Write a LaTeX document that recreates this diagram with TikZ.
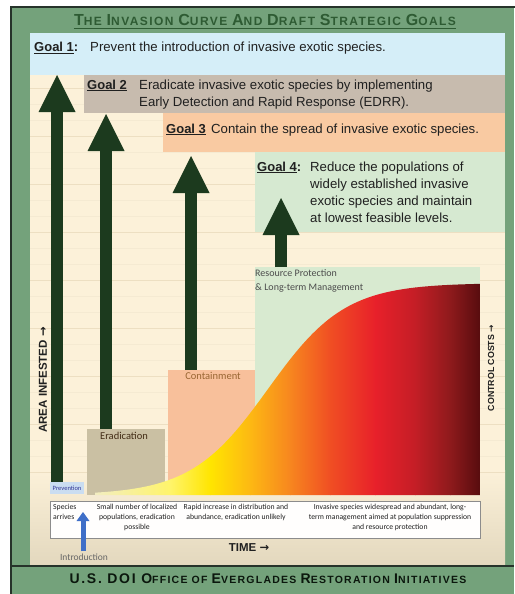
\documentclass[tikz,border=0pt]{standalone}
\usepackage{fontspec}
\setmainfont{Liberation Sans}
\newfontfamily\carl{Carlito}
\newfontfamily\djv{DejaVu Sans}
\newfontfamily\ttlfont[LetterSpace=12]{Liberation Sans}
\usetikzlibrary{arrows.meta}
\definecolor{framegreen}{HTML}{74A27B}
\definecolor{darkframe}{HTML}{26332A}
\definecolor{titlegreen}{HTML}{2E5B33}
\definecolor{cream}{HTML}{FCF1D9}
\definecolor{beige}{HTML}{E3D8BE}
\definecolor{gridln}{HTML}{F5EAD2}
\definecolor{gridmaj}{HTML}{EDDFC2}
\definecolor{g1col}{HTML}{D5EEF8}
\definecolor{g2col}{HTML}{C7BBAE}
\definecolor{g3col}{HTML}{F9CAA2}
\definecolor{g4col}{HTML}{D6E9D1}
\definecolor{eradcol}{HTML}{CAC0A3}
\definecolor{contcol}{HTML}{F8C09B}
\definecolor{rescol}{HTML}{D8EAD0}
\definecolor{prevcol}{HTML}{CADDF1}
\definecolor{arrowgreen}{HTML}{1C3A1E}
\definecolor{bluearrow}{HTML}{3F6FC8}
\definecolor{txtdark}{HTML}{202020}
\definecolor{c0}{HTML}{F2EDC2}
\definecolor{c1}{HTML}{FFF46A}
\definecolor{c2}{HTML}{FFE500}
\definecolor{c3}{HTML}{FDB813}
\definecolor{c4}{HTML}{F7861F}
\definecolor{c5}{HTML}{F04E23}
\definecolor{c6}{HTML}{E8202A}
\definecolor{c7}{HTML}{C41E26}
\definecolor{c8}{HTML}{8E1A1C}
\definecolor{c9}{HTML}{560C0E}
\newcommand\BC[1]{{\fontsize{16}{17}\selectfont #1}}
\newcommand\FC[1]{{\fontsize{14}{15}\selectfont #1}}
\tikzset{
  box/.style={anchor=north west, inner sep=0pt, outer sep=0pt},
  gtxt/.style={anchor=base west, inner sep=0pt, text=txtdark, font=\fontsize{13.2}{15}\selectfont},
  glbl/.style={anchor=base west, inner sep=0pt, text=txtdark, font=\fontsize{13}{15}\selectfont\bfseries},
  stagetxt/.style={inner sep=0pt, font=\carl\fontsize{10.5}{13}\selectfont},
  desctxt/.style={anchor=north, inner sep=0pt, align=center, text=txtdark, font=\carl\fontsize{7.7}{10}\selectfont},
  bigarrow/.style={draw=arrowgreen, line width=12pt, -{Triangle[width=37pt,length=37pt,line width=0pt]}},
  axislbl/.style={rotate=90, inner sep=0pt, text=txtdark},
}
\begin{document}
\begin{tikzpicture}[x=1pt,y=-1pt]
\useasboundingbox (0,0) rectangle (514,594);
\fill[white] (0,0) rectangle (514,594);
% frame
\fill[framegreen] (11,7) rectangle (514,594);
\draw[darkframe, line width=1.5pt] (11,600) -- (11,7) -- (520,7);
% panel
\fill[cream] (30,33) rectangle (505,565);
\shade[top color=cream, bottom color=beige] (30,470) rectangle (505,565);
\foreach \yy in {88,104,...,472} \draw[gridln, line width=0.6pt] (30,\yy) -- (505,\yy);
\foreach \yy in {88,136,...,472} \draw[gridmaj, line width=0.7pt] (30,\yy) -- (505,\yy);
\draw[darkframe, line width=1.2pt] (11,566) -- (514,566);

% title
\node[anchor=base, inner sep=0pt, text=titlegreen, font=\ttlfont\bfseries\fontsize{12}{14}\selectfont] (title) at (265,26)
  {\BC{T}HE \BC{I}NVASION \BC{C}URVE \BC{A}ND \BC{D}RAFT \BC{S}TRATEGIC \BC{G}OALS};
\draw[titlegreen, line width=0.9pt] ([yshift=-2pt]title.base west) -- ([yshift=-2pt]title.base east);

% goal boxes
\node[box, fill=g1col, minimum width=475pt, minimum height=42pt] (g1) at (30,33) {};
\node[box, fill=g2col, minimum width=421pt, minimum height=38pt] (g2) at (84,75) {};
\node[box, fill=g3col, minimum width=342pt, minimum height=39pt] (g3) at (163,113) {};
\node[box, fill=g4col, minimum width=250pt, minimum height=80pt] (g4) at (255,152) {};

\node[glbl] (g1l) at (34,52) {\underline{Goal 1}:};
\node[gtxt] (g1t) at (90,52) {Prevent the introduction of invasive exotic species.};
\node[glbl] (g2l) at (87,89) {\underline{Goal 2}};
\node[gtxt] (g2t) at (139,89) {Eradicate invasive exotic species by implementing};
\node[gtxt] (g2u) at (139,106) {Early Detection and Rapid Response (EDRR).};
\node[glbl] (g3l) at (166,133) {\underline{Goal 3}};
\node[gtxt] (g3t) at (211,133) {Contain the spread of invasive exotic species.};
\node[glbl] (g4l) at (257,171) {\underline{Goal 4}:};
\node[gtxt] (g4a) at (310,171) {Reduce the populations of};
\node[gtxt] (g4b) at (310,188) {widely established invasive};
\node[gtxt] (g4c) at (310,205) {exotic species and maintain};
\node[gtxt] (g4d) at (310,222) {at lowest feasible levels.};

% stage boxes
\node[box, fill=prevcol, minimum width=34pt, minimum height=12pt] (prev) at (50,482) {};
\node[box, fill=eradcol, minimum width=78pt, minimum height=66pt] (erad) at (87,429) {};
\node[box, fill=contcol, minimum width=87pt, minimum height=125pt] (cont) at (168,370) {};
\node[box, fill=rescol, minimum width=225pt, minimum height=228pt] (res) at (255,267) {};

% invasion curve
\begin{scope}
\clip plot[domain=95:480, samples=120] (\x,{495-212/(1+exp(-0.026*(\x-268)))}) -- (480,495) -- (95,495) -- cycle;
\shade[left color=c0, right color=c1] (94,270) rectangle (170.5,496);
\shade[left color=c1, right color=c2] (170,270) rectangle (210.5,496);
\shade[left color=c2, right color=c3] (210,270) rectangle (250.5,496);
\shade[left color=c3, right color=c4] (250,270) rectangle (290.5,496);
\shade[left color=c4, right color=c5] (290,270) rectangle (330.5,496);
\shade[left color=c5, right color=c6] (330,270) rectangle (375.5,496);
\shade[left color=c6, right color=c7] (375,270) rectangle (415.5,496);
\shade[left color=c7, right color=c8] (415,270) rectangle (450.5,496);
\shade[left color=c8, right color=c9] (450,270) rectangle (481,496);
\end{scope}

% stage labels
\node[stagetxt, text=prevcol!40!blue!60!black, font=\carl\fontsize{6.5}{7}\selectfont] (prevl) at (67,488) {Prevention};
\node[stagetxt, text=black!65!brown, anchor=north] (eradl) at (124,432) {Eradication};
\node[stagetxt, text=brown!80!black, anchor=north] (contl) at (213,372) {Containment};
\node[stagetxt, text=black!70, anchor=north west, align=left, font=\carl\fontsize{10}{14}\selectfont] (resl) at (255,269) {Resource Protection\\\& Long-term Management};

% big arrows
\coordinate (a1e) at (57,75);
\coordinate (a2e) at (106,114);
\coordinate (a3e) at (191,156);
\coordinate (a4e) at (281,198);
\draw[bigarrow] (prev.north west -| a1e) -- (a1e);
\draw[bigarrow] (erad.north -| a2e) -- (a2e);
\draw[bigarrow] (cont.north -| a3e) -- (a3e);
\draw[bigarrow] (res.north west -| a4e) -- (a4e);

% axis labels
\node[axislbl, font=\bfseries\fontsize{11.5}{13}\selectfont] (area) at (43,380) {AREA INFESTED {\djv →}};
\node[axislbl, font=\bfseries\fontsize{8.8}{10}\selectfont] (cost) at (491,368) {CONTROL COSTS {\djv →}};

% description box
\node[box, fill=white!96!cream, draw=black!45, line width=0.6pt, minimum width=430pt, minimum height=37pt] (desc) at (50,501) {};
\node[desctxt, anchor=north west, align=left] (d1) at (53,504) {Species\\arrives};
\node[desctxt] (d2) at (137,504) {Small number of localized\\populations, eradication\\possible};
\node[desctxt] (d3) at (236,504) {Rapid increase in distribution and\\abundance, eradication unlikely};
\node[desctxt] (d4) at (390,504) {Invasive species widespread and abundant, long-\\term management aimed at population suppression\\and resource protection};

% introduction arrow
\node[inner sep=0pt, text=black!60, font=\carl\fontsize{9.5}{11}\selectfont] (intro) at (84,557) {Introduction};
\coordinate (introtip) at (83,512);
\draw[bluearrow, line width=5pt, -{Triangle[width=13pt,length=9pt,line width=0pt]}] ([yshift=2pt]intro.north -| introtip) -- (introtip);

% time label
\node[inner sep=0pt, font=\bfseries\fontsize{11.5}{13}\selectfont, text=txtdark] (time) at (249,548) {TIME {\djv →}};

% footer
\node[anchor=base, inner sep=0pt, text=black!75!titlegreen, font=\ttlfont\bfseries\fontsize{10.5}{12}\selectfont] (footer) at (268,583)
  {\FC{U.S. DOI O}FFICE OF \FC{E}VERGLADES \FC{R}ESTORATION \FC{I}NITIATIVES};
\end{tikzpicture}
\end{document}
